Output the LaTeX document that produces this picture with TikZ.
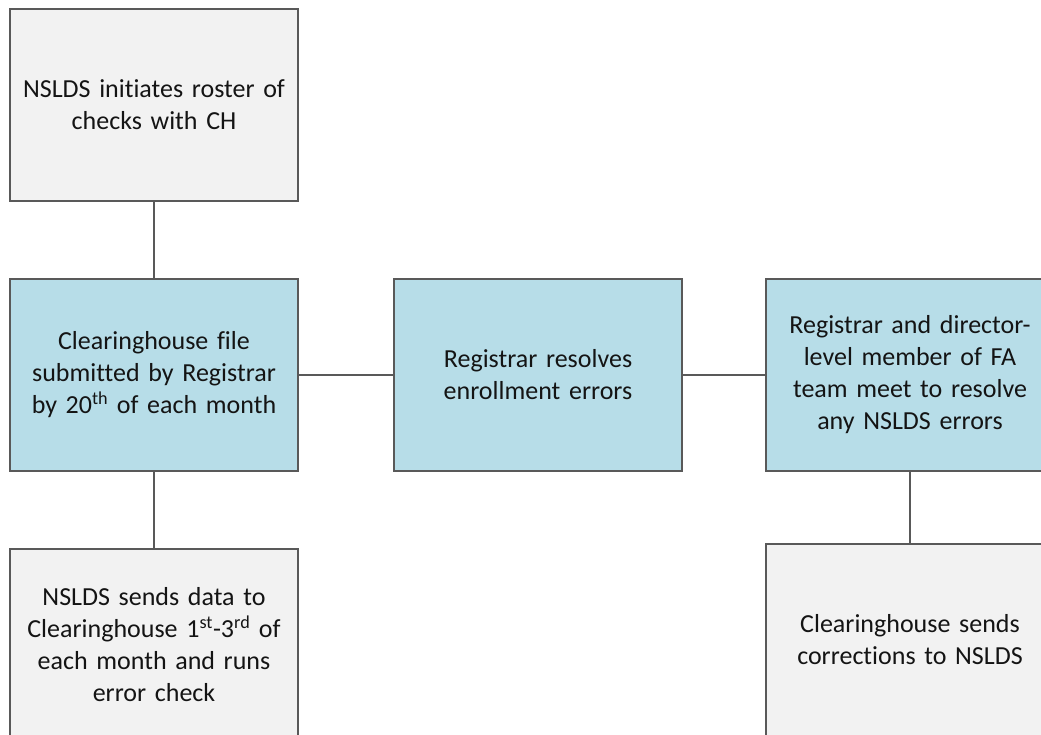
\documentclass[tikz,border=0pt]{standalone}
\usepackage{fontspec}
\setmainfont{Carlito}[Ligatures=NoCommon]
\definecolor{boxgray}{HTML}{F2F2F2}
\definecolor{boxblue}{HTML}{B7DDE8}
\definecolor{edge}{HTML}{595959}
\definecolor{txt}{HTML}{141414}
\begin{document}
\begin{tikzpicture}[x=1pt,y=1pt,
  box/.style={draw=edge, line width=2pt, rectangle, minimum width=288pt, minimum height=192pt,
    text width=284pt, align=center, inner sep=0pt, text=txt,
    font=\fontsize{26}{32}\selectfont},
  graybox/.style={box, fill=boxgray},
  bluebox/.style={box, fill=boxblue},
  link/.style={draw=edge, line width=2pt}]
\useasboundingbox (0,0) rectangle (1041,734);
\clip (0,0) rectangle (1041,734);
\node[graybox] (roster) at (154,629) {NSLDS initiates roster of\\checks with CH};
\node[bluebox] (file) at (154,359) {Clearinghouse file\\submitted by Registrar\\by 20\textsuperscript{th} of each month};
\node[graybox] (sends) at (154,89) {NSLDS sends data to\\Clearinghouse 1\textsuperscript{st}-3\textsuperscript{rd} of\\each month and runs\\error check};
\node[bluebox] (resolve) at (538,359) {Registrar resolves\\enrollment errors};
\node[bluebox] (meet) at (910,359) {Registrar and director-\\level member of FA\\team meet to resolve\\any NSLDS errors};
\node[graybox] (corr) at (910,94) {Clearinghouse sends\\corrections to NSLDS};
\draw[link] (roster) -- (file);
\draw[link] (file) -- (sends);
\draw[link] (file) -- (resolve);
\draw[link] (resolve) -- (meet);
\draw[link] (meet) -- (corr);
\end{tikzpicture}
\end{document}
